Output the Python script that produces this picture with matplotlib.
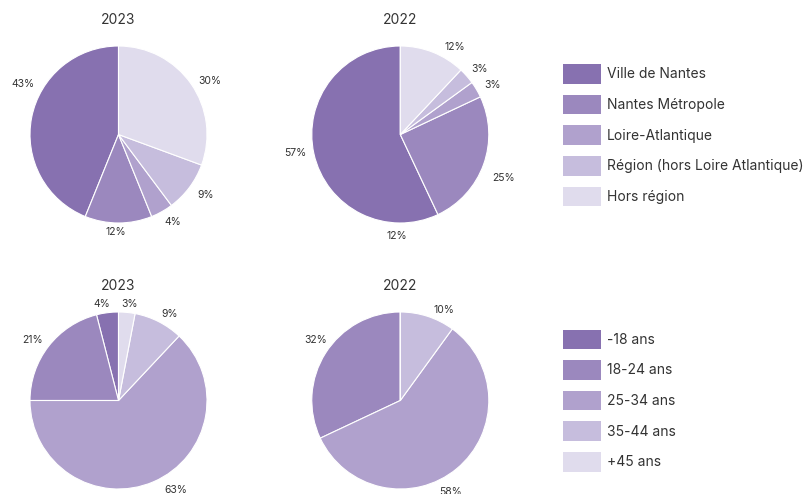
import matplotlib
matplotlib.use("Agg")
import numpy as np
import matplotlib.pyplot as plt
from matplotlib.patches import Patch

plt.rcParams['font.family'] = ['Inter', 'DejaVu Sans']
txt_col = '#333333'

# origine geographique
lieux = ['Ville de Nantes', 'Nantes Métropole', 'Loire-Atlantique',
         'Région (hors Loire Atlantique)', 'Hors région']
lieux_2023 = [43, 12, 4, 9, 30]
lieux_2022 = [57, 25, 3, 3, 12]

# tranches d'age
ages = ['-18 ans', '18-24 ans', '25-34 ans', '35-44 ans', '+45 ans']
ages_2023 = [4, 21, 63, 9, 3]
ages_2022 = [0, 32, 58, 10, 0]

colors = ['#8771b0', '#9b88be', '#b0a1cd', '#c6bddd', '#e0dced']

W, H = 805, 494
R = 88.5  # rayon en pixels
lim = 1.35

# placement des etiquettes (angle en degres, distance / rayon), comme sur l'original
pos_lieux_2023 = [(152, 1.22), (-91.5, 1.10), (-58, 1.165), (-34.7, 1.2), (30.3, 1.2)]
pos_lieux_2022 = [(190, 1.21), (-22.7, 1.26), (28.4, 1.18), (39.6, 1.16), (58.2, 1.16)]
pos_ages_2023 = [(99.6, 1.11), (144.9, 1.19), (-57.3, 1.2), (59.4, 1.14), (83.5, 1.10)]
pos_ages_2022 = [(0, 0), (144.4, 1.18), (-61.3, 1.18), (64.4, 1.14), (0, 0)]

fig = plt.figure(figsize=(W / 100, H / 100), dpi=100)


def pie_at(cx, cy, vals, title, pos):
    size = 2 * lim * R
    ax = fig.add_axes([(cx - size / 2) / W, 1 - (cy + size / 2) / H, size / W, size / H])
    labs = [f'{v}%' if v > 0 else '' for v in vals]
    wedges, texts = ax.pie(vals, labels=labs, colors=colors, startangle=90,
                           counterclock=True, labeldistance=1.2, radius=1,
                           wedgeprops=dict(edgecolor='white', linewidth=0.8))
    for t, (a, r) in zip(texts, pos):
        t.set_position((r * np.cos(np.radians(a)), r * np.sin(np.radians(a))))
        t.set_ha('center')
        t.set_va('center')
        t.set_fontsize(7.5)
        t.set_color(txt_col)
    ax.text(0, 1.29, title, ha='center', va='center', fontsize=10, color=txt_col)
    ax.set_xlim(-lim, lim)
    ax.set_ylim(-lim, lim)
    ax.set_aspect('equal')
    ax.axis('off')
    return ax


pie_at(118.5, 134.5, lieux_2023, '2023', pos_lieux_2023)
ax2 = pie_at(400.3, 134.5, lieux_2022, '2022', pos_lieux_2022)
# libelle present en double sur l'original
a = np.radians(-92.2)
ax2.text(1.15 * np.cos(a), 1.15 * np.sin(a), '12%', ha='center', va='center',
         fontsize=7.5, color=txt_col)
pie_at(118.5, 400.5, ages_2023, '2023', pos_ages_2023)
pie_at(400.3, 400.5, ages_2022, '2022', pos_ages_2022)

fs = 10
fpx = fs * 100 / 72


def legend_at(x, y, names):
    handles = [Patch(facecolor=c, edgecolor='none') for c in colors]
    fig.legend(handles, names, loc='upper left', bbox_to_anchor=(x / W, 1 - y / H),
               frameon=False, fontsize=fs, borderpad=0, borderaxespad=0,
               handlelength=38 / fpx, handleheight=25 / fpx,
               labelspacing=11 / fpx, handletextpad=6 / fpx,
               labelcolor=txt_col)


legend_at(563, 64, lieux)
legend_at(563, 329.5, ages)

fig.savefig('out.png', dpi=100)
